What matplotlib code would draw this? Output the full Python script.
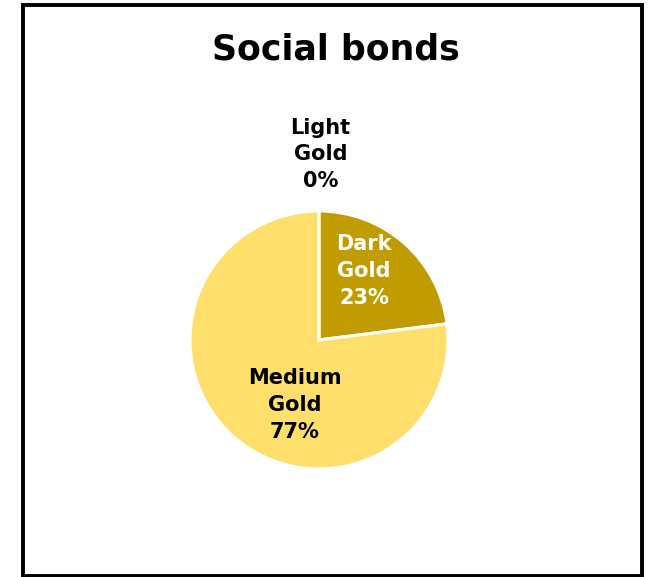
import matplotlib.pyplot as plt
from matplotlib.patches import Rectangle

# slice data, clockwise from 12 o'clock
names = ["Light\nGold", "Dark\nGold", "Medium\nGold"]
shares = [0, 23, 77]
colors = ["#FFF0B0", "#C19C00", "#FFDF6B"]
text_colors = ["black", "white", "black"]
# label anchor points in pie-radius units
label_pos = [(0.01, 1.44), (0.35, 0.535), (-0.19, -0.505)]

fig = plt.figure(figsize=(6.5, 5.77), dpi=100)
fig.patch.set_facecolor("white")

# frame around the whole chart
fig.patches.append(Rectangle((23 / 650, 1.5 / 577), 618.5 / 650, 571 / 577,
                             transform=fig.transFigure, fill=False,
                             edgecolor="black", linewidth=2.8))

ax = fig.add_axes([190 / 650, 108 / 577, 258 / 650, 258 / 577])
ax.pie(shares, colors=colors, startangle=90, counterclock=False, radius=1,
       wedgeprops=dict(edgecolor="white", linewidth=2.2))
ax.set_xlim(-1, 1)
ax.set_ylim(-1, 1)
ax.set_aspect("equal")
ax.axis("off")

for name, val, (x, y), tc in zip(names, shares, label_pos, text_colors):
    ax.text(x, y, f"{name}\n{val}%", ha="center", va="center", color=tc,
            fontsize=15, fontweight="bold", linespacing=1.42, clip_on=False)

fig.text(336 / 650, 1 - 50 / 577, "Social bonds", ha="center", va="center",
         fontsize=25, fontweight="bold")

fig.savefig("out.png", dpi=100)
